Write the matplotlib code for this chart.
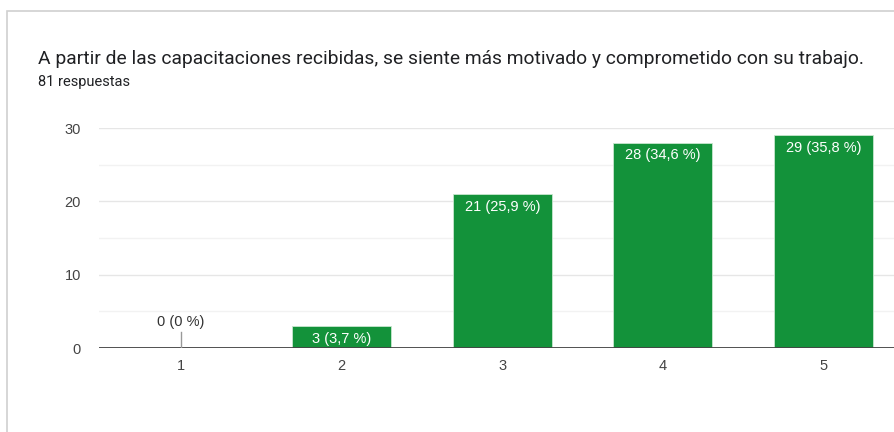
import matplotlib.pyplot as plt
from matplotlib.patches import Rectangle

# data
categories = ["1", "2", "3", "4", "5"]
counts = [0, 3, 21, 28, 29]
labels = ["0 (0 %)", "3 (3,7 %)", "21 (25,9 %)", "28 (34,6 %)", "29 (35,8 %)"]
title = "A partir de las capacitaciones recibidas, se siente más motivado y comprometido con su trabajo."
subtitle = "81 respuestas"

plt.rcParams['font.family'] = ['Roboto', 'DejaVu Sans']
chart_font = ['Liberation Sans', 'DejaVu Sans']

W, H = 894, 432
fig = plt.figure(figsize=(W / 100, H / 100), dpi=100)

# card border (top and left visible)
fig.patches.append(Rectangle((7 / W, -0.1), 1.2, (H - 11) / H + 0.1, transform=fig.transFigure,
                             fill=False, edgecolor='#d0d0d0', linewidth=1.2))

fig.text(38 / W, 1 - 59 / H, title, fontsize=13.85, color='#202124', va='center', ha='left')
fig.text(38 / W, 1 - 82 / H, subtitle, fontsize=10.5, color='#202124', va='center', ha='left')

left, right = 99, 904
bottom, top = 348, 128
ax = fig.add_axes([left / W, 1 - bottom / H, (right - left) / W, (bottom - top) / H])

x = list(range(1, len(categories) + 1))
ax.bar(x, counts, width=0.616, color='#13923a', edgecolor='#c8e6cf', linewidth=0.6, zorder=3)

ax.set_xlim(0.49, 5.5)
ax.set_ylim(0, 30)
ax.set_yticks([0, 10, 20, 30])
ax.set_yticks([5, 15, 25], minor=True)
ax.set_xticks(x)
ax.set_xticklabels(categories)
ax.grid(axis='y', which='major', color='#e6e6e6', linewidth=1, zorder=0)
ax.grid(axis='y', which='minor', color='#f2f2f2', linewidth=1, zorder=0)
ax.axhline(0, color='#444444', linewidth=1.3, zorder=4)
for s in ax.spines.values():
    s.set_visible(False)
ax.tick_params(axis='both', which='both', length=0, labelsize=10.5, colors='#444444')
ax.tick_params(axis='y', pad=13)
ax.tick_params(axis='x', pad=8)
for t in ax.get_xticklabels() + ax.get_yticklabels():
    t.set_family(chart_font)

for xi, c, lab in zip(x, counts, labels):
    if c == 0:
        ax.plot([xi, xi], [0, 2.2], color='#999999', linewidth=1, zorder=4)
        ax.annotate(lab, (xi, 2.2), xytext=(0, 2), textcoords='offset points',
                    ha='center', va='bottom', fontsize=10.5, color='#333333', family=chart_font)
    else:
        ax.annotate(lab, (xi, c), xytext=(0, -4), textcoords='offset points',
                    ha='center', va='top', fontsize=10.5, color='white', zorder=5, family=chart_font)

fig.savefig('out.png', dpi=100)
